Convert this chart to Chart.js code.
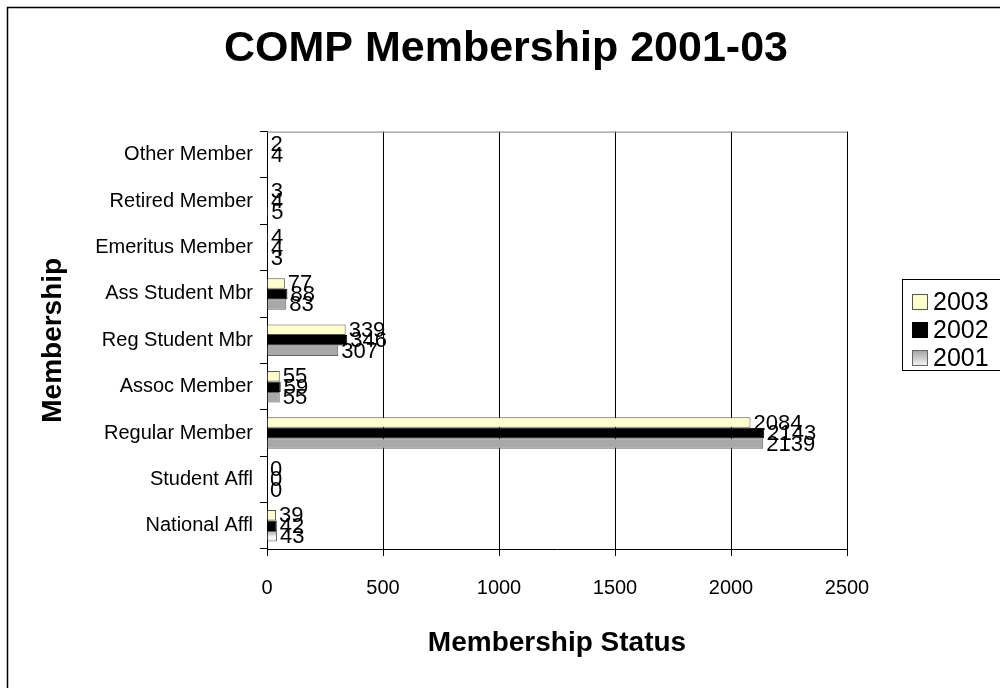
<!DOCTYPE html>
<html>
<head>
<meta charset="utf-8">
<script src="https://cdn.jsdelivr.net/npm/chart.js@4/dist/chart.umd.min.js"></script>
<style>
  html, body { margin: 0; padding: 0; background: #fff; }
  #wrap { width: 1000px; height: 688px; }
</style>
</head>
<body>
<div id="wrap"><canvas id="bar-chart"></canvas></div>
<script>
// data
var categories = ["Other Member", "Retired Member", "Emeritus Member", "Ass Student Mbr",
                  "Reg Student Mbr", "Assoc Member", "Regular Member", "Student Affl", "National Affl"];
var years = ["2003", "2002", "2001"];
var values2003 = [2, 3, 4, 77, 339, 55, 2084, 0, 39];
var values2002 = [4, 4, 4, 88, 346, 59, 2143, 0, 42];
var values2001 = [null, 5, 3, 83, 307, 55, 2139, 0, 43];
var xTicks = [0, 500, 1000, 1500, 2000, 2500];

var FONT = "'Liberation Sans', Arial, sans-serif";
Chart.defaults.font.family = FONT;
Chart.defaults.color = "#000";

// frame round the whole picture + top border of the plot area
var framePlugin = {
    id: 'frame',
    beforeDraw: function (chart) {
        var ctx = chart.ctx;
        ctx.save();
        ctx.strokeStyle = '#000';
        ctx.lineWidth = 1.5;
        ctx.strokeRect(7.5, 7.5, 1010, 700);
        ctx.restore();
    },
    afterDraw: function (chart) {
        var a = chart.chartArea, ctx = chart.ctx;
        ctx.save();
        ctx.strokeStyle = '#808080';
        ctx.lineWidth = 1;
        ctx.beginPath();
        ctx.moveTo(a.left, a.top + 0.5);
        ctx.lineTo(a.right, a.top + 0.5);
        ctx.stroke();
        ctx.restore();
    }
};

// grey shaded fill for the 2001 bars
var shadePlugin = {
    id: 'shade',
    beforeDatasetDraw: function (chart, args) {
        if (args.index !== 2) return;
        var ctx = chart.ctx;
        args.meta.data.forEach(function (bar) {
            var h = bar.height / 2;
            var g = ctx.createLinearGradient(0, bar.y - h, 0, bar.y + h);
            g.addColorStop(0, '#a8a8a8');
            g.addColorStop(0.6, '#fafafa');
            g.addColorStop(1, '#e0e0e0');
            bar.options.backgroundColor = g;
        });
    }
};

// value labels at the end of each bar
var valueLabels = {
    id: 'valueLabels',
    afterDatasetsDraw: function (chart) {
        var ctx = chart.ctx;
        ctx.save();
        ctx.font = '22px ' + FONT;
        ctx.fillStyle = '#000';
        ctx.textAlign = 'left';
        ctx.textBaseline = 'middle';
        chart.data.datasets.forEach(function (ds, i) {
            var meta = chart.getDatasetMeta(i);
            meta.data.forEach(function (bar, j) {
                var v = ds.data[j];
                if (v === null || v === undefined) return;
                ctx.fillText(String(v), bar.x + 3, bar.y + 1);
            });
        });
        ctx.restore();
    }
};

// boxed legend on the right
var boxLegend = {
    id: 'boxLegend',
    afterDraw: function (chart) {
        var ctx = chart.ctx;
        ctx.save();
        ctx.strokeStyle = '#000';
        ctx.lineWidth = 1;
        ctx.strokeRect(902.5, 279.5, 120, 91);
        ctx.font = '25px ' + FONT;
        ctx.textBaseline = 'middle';
        ctx.textAlign = 'left';
        chart.data.datasets.forEach(function (ds, i) {
            var y = 302 + i * 28;
            var bx = 912, by = y - 8;
            if (i === 2) {
                var g = ctx.createLinearGradient(0, by, 0, by + 16);
                g.addColorStop(0, '#a0a0a0');
                g.addColorStop(1, '#f6f6f6');
                ctx.fillStyle = g;
            } else {
                ctx.fillStyle = ds.backgroundColor;
            }
            ctx.fillRect(bx, by, 16, 16);
            ctx.strokeStyle = ds.borderColor;
            ctx.strokeRect(bx + 0.5, by + 0.5, 15, 15);
            ctx.fillStyle = '#000';
            ctx.fillText(ds.label, 933, y + 1);
        });
        ctx.restore();
    }
};

new Chart(document.getElementById("bar-chart"), {
    type: 'bar',
    data: {
        labels: categories,
        datasets: [{
            label: years[0],
            backgroundColor: '#ffffcc',
            borderColor: '#555555',
            borderWidth: 1,
            data: values2003
        }, {
            label: years[1],
            backgroundColor: '#000000',
            borderColor: '#000000',
            borderWidth: 1,
            data: values2002
        }, {
            label: years[2],
            backgroundColor: '#dcdcdc',
            borderColor: '#666666',
            borderWidth: 1,
            data: values2001
        }]
    },
    plugins: [framePlugin, shadePlugin, valueLabels, boxLegend],
    options: {
        indexAxis: 'y',
        responsive: true,
        maintainAspectRatio: false,
        animation: false,
        categoryPercentage: 0.68,
        barPercentage: 1.0,
        layout: { padding: { top: 8, left: 20, right: 8, bottom: 10 } },
        plugins: {
            legend: { display: false },
            tooltip: { enabled: false },
            title: {
                display: true,
                text: 'COMP Membership 2001-03',
                color: '#000',
                font: { size: 43, weight: 'bold', lineHeight: 1.2 },
                padding: { top: 15, bottom: 57 }
            }
        },
        scales: {
            x: {
                min: 0,
                max: 2500,
                afterBuildTicks: function (scale) {
                    scale.ticks = xTicks.map(function (v) { return { value: v }; });
                },
                afterFit: function (scale) { scale.height = 129; },
                grid: { color: '#000', lineWidth: 1, tickLength: 7, drawTicks: true },
                border: { color: '#000', width: 1 },
                ticks: {
                    font: { size: 20 }, color: '#000', padding: 20, maxRotation: 0,
                    callback: function (v) { return String(v); }
                },
                title: {
                    display: true,
                    text: 'Membership Status',
                    color: '#000',
                    font: { size: 28, weight: 'bold', lineHeight: 1.2 },
                    padding: { top: 0, bottom: 18 }
                }
            },
            y: {
                afterFit: function (scale) { scale.width = 247; },
                grid: { drawOnChartArea: false, color: '#000', tickLength: 7 },
                border: { color: '#000', width: 1 },
                ticks: { font: { size: 20 }, color: '#000', padding: 7 },
                title: {
                    display: true,
                    text: 'Membership',
                    color: '#000',
                    font: { size: 28, weight: 'bold', lineHeight: 1.2 },
                    padding: { top: 16, bottom: 0 }
                }
            },
            // empty strip on the right that keeps room for the legend box
            side: {
                type: 'category',
                labels: categories,
                position: 'right',
                axis: 'y',
                afterFit: function (scale) { scale.width = 145; },
                grid: { display: false },
                border: { display: false },
                ticks: { display: false }
            }
        }
    }
});
</script>
</body>
</html>
